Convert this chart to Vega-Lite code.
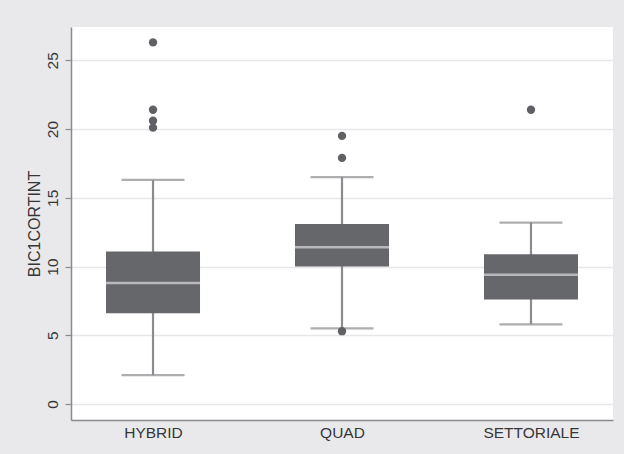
{
  "$schema": "https://vega.github.io/schema/vega-lite/v6.json",
  "width": 542,
  "height": 393,
  "autosize": "none",
  "padding": {"left": 71, "top": 27, "right": 11, "bottom": 34},
  "background": "#e9e9eb",
  "config": {
    "view": {"fill": "#ffffff", "stroke": null},
    "font": "Liberation Sans",
    "axis": {
      "labelFont": "Liberation Sans",
      "titleFont": "Liberation Sans",
      "labelColor": "#363638",
      "titleColor": "#363638",
      "labelFontSize": 15.5,
      "titleFontSize": 16,
      "titleFontWeight": "normal",
      "domainColor": "#8a8a8c",
      "domainWidth": 1.5,
      "tickColor": "#8a8a8c",
      "tickWidth": 1.2
    }
  },
  "datasets": {
    "boxes": [
      {"group": "HYBRID", "lower": 2.1, "q1": 6.6, "median": 8.8, "q3": 11.1, "upper": 16.3},
      {"group": "QUAD", "lower": 5.5, "q1": 10.0, "median": 11.4, "q3": 13.1, "upper": 16.5},
      {"group": "SETTORIALE", "lower": 5.8, "q1": 7.6, "median": 9.4, "q3": 10.9, "upper": 13.2}
    ],
    "outliers": [
      {"group": "HYBRID", "value": 26.3},
      {"group": "HYBRID", "value": 21.4},
      {"group": "HYBRID", "value": 20.6},
      {"group": "HYBRID", "value": 20.1},
      {"group": "QUAD", "value": 19.5},
      {"group": "QUAD", "value": 17.9},
      {"group": "QUAD", "value": 5.3},
      {"group": "SETTORIALE", "value": 21.4}
    ]
  },
  "encoding": {
    "x": {
      "field": "group",
      "type": "nominal",
      "sort": ["HYBRID", "QUAD", "SETTORIALE"],
      "scale": {"type": "point", "padding": 0.434},
      "axis": {"title": null, "labelAngle": 0, "ticks": false, "labelPadding": 5, "grid": false}
    }
  },
  "layer": [
    {
      "data": {"name": "boxes"},
      "mark": {"type": "rule", "color": "#8c8c90", "strokeWidth": 2.2},
      "encoding": {
        "y": {
          "field": "lower",
          "type": "quantitative",
          "scale": {"domain": [-1.16, 27.42], "nice": false, "zero": false},
          "axis": {
            "title": "BIC1CORTINT",
            "values": [0, 5, 10, 15, 20, 25],
            "labelAngle": -90,
            "labelAlign": "center",
            "labelBaseline": "bottom",
            "labelPadding": 5,
            "tickSize": 6,
            "titlePadding": 3,
            "grid": true,
            "gridColor": "#e7e7e9",
            "gridWidth": 1.6
          }
        },
        "y2": {"field": "upper"}
      }
    },
    {
      "data": {"name": "boxes"},
      "mark": {"type": "tick", "color": "#8c8c90", "size": 63, "thickness": 2.2},
      "encoding": {"y": {"field": "lower", "type": "quantitative"}}
    },
    {
      "data": {"name": "boxes"},
      "mark": {"type": "tick", "color": "#8c8c90", "size": 63, "thickness": 2.2},
      "encoding": {"y": {"field": "upper", "type": "quantitative"}}
    },
    {
      "data": {"name": "boxes"},
      "mark": {"type": "bar", "color": "#66676b", "width": 94},
      "encoding": {
        "y": {"field": "q1", "type": "quantitative"},
        "y2": {"field": "q3"}
      }
    },
    {
      "data": {"name": "boxes"},
      "mark": {"type": "tick", "color": "#dcdcde", "size": 94, "thickness": 2.5},
      "encoding": {"y": {"field": "median", "type": "quantitative"}}
    },
    {
      "data": {"name": "outliers"},
      "mark": {"type": "point", "filled": true, "color": "#606165", "opacity": 1, "size": 70},
      "encoding": {"y": {"field": "value", "type": "quantitative"}}
    }
  ]
}
